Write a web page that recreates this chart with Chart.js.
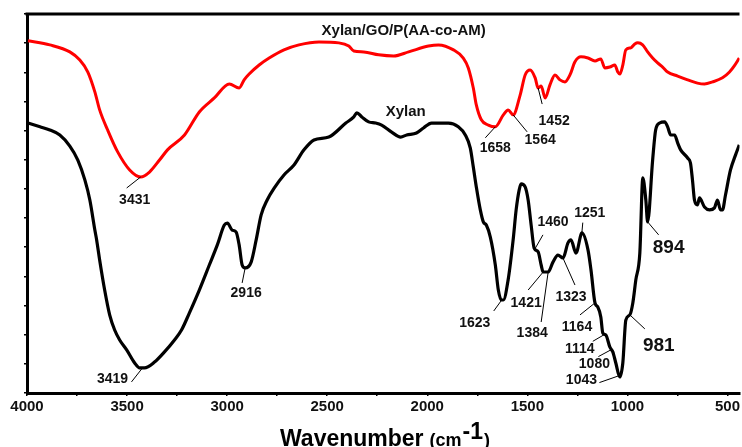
<!DOCTYPE html>
<html>
<head>
<meta charset="utf-8">
<title>FTIR spectra</title>
<script src="https://cdn.jsdelivr.net/npm/chart.js@4.4.0/dist/chart.umd.min.js"></script>
<style>
  html, body { margin: 0; padding: 0; background: #fff; }
  #wrap { width: 742px; height: 447px; }
</style>
</head>
<body>
<div id="wrap"><canvas id="ftir" width="742" height="447"></canvas></div>
<script>
// Spectra (wavenumber, cm-1 / transmittance, arbitrary units)
const compositeWave = [3995,3886,3786,3736,3696,3661,3637,3597,3547,3487,3432,3388,3338,3298,3213,3139,3064,2989,2940,2915,2890,2840,2790,2716,2641,2541,2442,2392,2367,2317,2243,2168,2093,1994,1944,1869,1820,1795,1770,1755,1730,1695,1660,1620,1596,1571,1536,1511,1486,1461,1446,1431,1411,1387,1362,1337,1312,1287,1262,1232,1197,1162,1133,1113,1088,1063,1048,1038,1023,1008,983,963,948,924,899,874,849,824,799,749,699,650,615,575,525,490,466,441];
const compositeT = [12.08,11.94,11.70,11.42,11.01,10.33,9.71,9.02,8.27,7.65,7.41,7.58,7.99,8.34,8.85,9.64,10.12,10.60,10.46,10.74,10.94,11.25,11.49,11.77,11.94,12.04,12.01,11.90,11.73,11.70,11.60,11.56,11.70,11.90,11.94,11.77,11.49,11.15,10.46,9.88,9.37,9.19,9.13,9.54,9.71,9.54,10.22,10.91,11.08,10.81,10.46,10.53,10.12,10.57,10.91,10.74,10.67,10.91,11.36,11.53,11.49,11.39,11.46,11.15,11.18,11.25,11.01,10.94,11.25,11.77,11.84,11.97,12.01,11.94,11.70,11.49,11.32,11.18,11.01,10.87,10.74,10.63,10.60,10.67,10.81,11.01,11.22,11.49];

const xylanWave = [3995,3935,3886,3836,3786,3746,3711,3686,3661,3652,3637,3612,3587,3562,3537,3502,3462,3437,3413,3363,3313,3263,3228,3189,3139,3089,3049,3014,2999,2975,2955,2940,2925,2910,2880,2855,2830,2800,2765,2716,2666,2616,2566,2492,2407,2367,2352,2327,2293,2258,2228,2178,2133,2103,2054,2019,1979,1894,1845,1810,1785,1770,1755,1735,1720,1705,1685,1660,1645,1630,1620,1596,1571,1556,1541,1531,1511,1496,1481,1466,1446,1431,1421,1396,1372,1347,1322,1297,1282,1257,1227,1197,1182,1162,1148,1133,1123,1108,1088,1073,1058,1038,1023,1008,988,973,958,938,923,908,899,874,859,839,814,799,784,764,749,734,699,685,675,665,650,640,615,590,565,550,535,525,510,485,460,441];
const xylanT = [9.26,9.13,9.02,8.85,8.47,7.99,7.31,6.62,5.59,5.25,4.56,3.53,2.68,2.16,1.82,1.48,1.03,0.86,0.86,1.06,1.41,1.82,2.16,2.74,3.53,4.39,5.08,5.76,5.83,5.59,5.52,5.08,4.39,4.29,4.49,5.25,6.11,6.62,7.03,7.48,7.82,8.34,8.68,8.78,9.26,9.47,9.61,9.47,9.30,9.26,9.19,8.95,8.78,8.85,8.92,9.09,9.26,9.26,9.13,8.85,8.40,7.75,7.07,6.28,5.87,5.76,5.35,4.39,3.53,3.19,3.19,3.88,5.25,6.28,6.96,7.17,7.07,6.62,5.76,4.97,4.84,4.39,4.15,4.15,4.49,4.73,4.63,5.15,5.25,4.80,5.49,4.91,4.22,3.09,2.95,2.61,2.06,1.99,1.58,1.41,1.03,0.55,1.03,2.50,2.68,3.09,3.88,4.80,7.38,6.62,5.87,7.99,9.02,9.26,9.30,9.13,8.85,8.85,8.58,8.34,8.06,7.89,7.31,6.62,6.45,6.69,6.38,6.28,6.35,6.62,6.28,6.28,6.79,7.65,8.16,8.51];

// Axis ticks
const xLabelTicks = [4000, 3500, 3000, 2500, 2000, 1500, 1000, 500];
const xMinorTicks = [3750, 3250, 2750, 2250, 1750, 1250, 750];
const yTicks = [0,1,2,3,4,5,6,7,8,9,10,11,12,13];

// Peak labels and where their leader lines meet the curve
const compositePeaks = ['3431', '1658', '1564', '1452'];
const compositeAnchors = [3432, 1660, 1571, 1446];
const xylanPeaks = ['3419', '2916', '1623', '1460', '1421', '1384', '1323', '1251', '1164', '1114', '1080', '1043', '981', '894'];
const xylanAnchors = [3423, 2910, 1628, 1462, 1421, 1396, 1322, 1228, 1162, 1113, 1080, 1040, 988, 899];

// Series names
const seriesNames = ['Xylan/GO/P(AA-co-AM)', 'Xylan'];

// label layout: [leader end dx, dy, text dx, dy, font size] relative to anchor pixel
const labelLayout = {
  '3431': [-14, 11, -6, 23, 14],
  '1658': [-10, 11, 0, 21, 14],
  '1564': [14, 17, 27, 25, 14],
  '1452': [4, 16, 16, 33, 14],
  '3419': [-11, 14, -30, 11, 14],
  '2916': [-3, 15, 1, 25, 14],
  '1623': [-8, 11, -27, 23, 14],
  '1460': [8, -14, 18, -27, 14],
  '1421': [-15, 18, -17, 31, 14],
  '1384': [-7, 50, -16, 61, 14],
  '1323': [12, 27, 8, 39, 14],
  '1251': [1, -11, 8, -20, 14],
  '1164': [-15, 12, -18, 24, 14],
  '1114': [-12, 7, -25, 15, 14],
  '1080': [-13, 7, -17, 15, 14],
  '1043': [-20, 7, -38, 5, 14],
  '981': [15, 14, 29, 31, 19],
  '894': [11, 13, 21, 26, 19]
};

const FONT = '"Liberation Sans", Arial, sans-serif';

function toPoints(waves, vals) {
  return waves.map((w, i) => ({ x: w, y: vals[i] }));
}

function curveAt(waves, vals, w) {
  for (let i = 0; i < waves.length - 1; i++) {
    if (w <= waves[i] && w >= waves[i + 1]) {
      const t = (waves[i] - w) / (waves[i] - waves[i + 1]);
      return vals[i] + t * (vals[i + 1] - vals[i]);
    }
  }
  return vals[vals.length - 1];
}

// frame, peak labels and axis title
const decorations = {
  id: 'decorations',
  afterDatasetsDraw(chart) {
    const ctx = chart.ctx;
    const xs = chart.scales.x, ys = chart.scales.y;
    const area = chart.chartArea;

    ctx.save();
    // top frame line
    ctx.strokeStyle = '#000';
    ctx.lineWidth = 3;
    ctx.beginPath();
    ctx.moveTo(area.left - 1.5, area.top);
    ctx.lineTo(area.right, area.top);
    ctx.stroke();

    const drawNotes = (names, anchors, waves, vals) => {
      names.forEach((txt, i) => {
        const L = labelLayout[txt];
        const px = xs.getPixelForValue(anchors[i]);
        const py = ys.getPixelForValue(curveAt(waves, vals, anchors[i]));
        ctx.strokeStyle = '#000';
        ctx.lineWidth = 1;
        ctx.beginPath();
        ctx.moveTo(px, py);
        ctx.lineTo(px + L[0], py + L[1]);
        ctx.stroke();
        ctx.fillStyle = '#111';
        ctx.font = 'bold ' + L[4] + 'px ' + FONT;
        ctx.textAlign = 'center';
        ctx.textBaseline = 'middle';
        ctx.fillText(txt, px + L[2], py + L[3]);
      });
    };
    drawNotes(compositePeaks, compositeAnchors, compositeWave, compositeT);
    drawNotes(xylanPeaks, xylanAnchors, xylanWave, xylanT);

    // series names
    ctx.fillStyle = '#111';
    ctx.font = 'bold 15px ' + FONT;
    ctx.textAlign = 'center';
    ctx.textBaseline = 'middle';
    ctx.fillText(seriesNames[0], xs.getPixelForValue(2118), ys.getPixelForValue(12.42));
    ctx.fillText(seriesNames[1], xs.getPixelForValue(2108), ys.getPixelForValue(9.64));

    // axis title: Wavenumber (cm-1)
    const base = 446;
    let x = 280;
    ctx.textAlign = 'left';
    ctx.textBaseline = 'alphabetic';
    ctx.fillStyle = '#000';
    ctx.font = 'bold 23px ' + FONT;
    ctx.fillText('Wavenumber', x, base);
    x += ctx.measureText('Wavenumber').width + 6;
    ctx.font = 'bold 18px ' + FONT;
    ctx.fillText('(cm', x, base);
    x += ctx.measureText('(cm').width + 1;
    ctx.font = 'bold 23px ' + FONT;
    ctx.fillText('-1', x, base - 7);
    x += ctx.measureText('-1').width + 1;
    ctx.font = 'bold 18px ' + FONT;
    ctx.fillText(')', x, base);
    ctx.restore();
  }
};

new Chart(document.getElementById('ftir'), {
  type: 'line',
  data: {
    datasets: [
      {
        label: seriesNames[0],
        data: toPoints(compositeWave, compositeT),
        borderColor: '#ff0000',
        borderWidth: 3,
        pointRadius: 0,
        cubicInterpolationMode: 'monotone',
        fill: false
      },
      {
        label: seriesNames[1],
        data: toPoints(xylanWave, xylanT),
        borderColor: '#000000',
        borderWidth: 3.2,
        pointRadius: 0,
        cubicInterpolationMode: 'monotone',
        fill: false
      }
    ]
  },
  options: {
    responsive: false,
    animation: false,
    devicePixelRatio: 1,
    layout: { padding: { top: 14, right: 0, left: 0, bottom: 0 } },
    plugins: {
      legend: { display: false },
      tooltip: { enabled: false }
    },
    scales: {
      x: {
        type: 'linear',
        reverse: true,
        min: 440,
        max: 4000,
        afterBuildTicks: (scale) => {
          scale.ticks = xLabelTicks.concat(xMinorTicks).sort((a, b) => b - a).map(v => ({ value: v }));
        },
        afterFit: (scale) => { scale.height = 54; },
        ticks: {
          autoSkip: false,
          maxRotation: 0,
          padding: 2,
          color: '#111',
          font: { family: FONT, size: 15, weight: 'bold' },
          callback: (v) => xLabelTicks.includes(v) ? String(v) : ''
        },
        grid: {
          display: true,
          drawOnChartArea: false,
          drawTicks: true,
          tickLength: 3,
          color: '#000',
          lineWidth: 1.5
        },
        border: { display: true, color: '#000', width: 3 }
      },
      y: {
        min: 0,
        max: 13,
        afterBuildTicks: (scale) => {
          scale.ticks = yTicks.map(v => ({ value: v }));
        },
        afterFit: (scale) => { scale.width = 27; },
        ticks: { display: false },
        grid: {
          display: true,
          drawOnChartArea: false,
          drawTicks: true,
          tickLength: 3,
          color: '#000',
          lineWidth: 1.5
        },
        border: { display: true, color: '#000', width: 3 }
      }
    }
  },
  plugins: [decorations]
});
</script>
</body>
</html>
